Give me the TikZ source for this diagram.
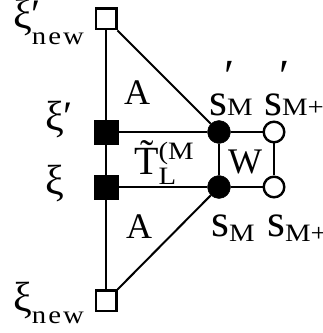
\documentclass[tikz,border=0pt]{standalone}
\usepackage{fontspec}
\setmainfont{Liberation Serif}
\newfontfamily\subfont{Liberation Serif}[FakeStretch=1.15]
\newcommand{\lo}[2]{\raisebox{-#1}{\subfont\fontsize{25}{25}\selectfont #2}}
\newcommand{\hi}[2]{\raisebox{#1}{\subfont\fontsize{25}{25}\selectfont #2}}
\newcommand{\xis}{\fontsize{42}{42}\selectfont ξ}
\newcommand{\ess}{\fontsize{46}{46}\selectfont s}

\begin{document}
\begin{tikzpicture}[x=1pt,y=1pt,
  open sq/.style={draw, line width=2.6pt, fill=white, minimum size=20.4pt, inner sep=0pt},
  full sq/.style={draw, fill=black, minimum size=24pt, inner sep=0pt},
  full dot/.style={circle, draw, fill=black, minimum size=23pt, inner sep=0pt},
  open dot/.style={circle, draw, line width=2.4pt, fill=white, minimum size=20.6pt, inner sep=0pt},
  lbl/.style={font=\fontsize{36}{36}\selectfont, inner sep=0pt, anchor=base},
  edge/.style={line width=2pt}]
\useasboundingbox (0,0) rectangle (323,333);
\node[open sq] (xinewp) at (106,314) {};
\node[full sq] (xip) at (106,201) {};
\node[full sq] (xi) at (106,146) {};
\node[open sq] (xinew) at (106,32) {};
\node[full dot] (sMp) at (219,201) {};
\node[full dot] (sM) at (219,146) {};
\node[open dot] (sMpp) at (274,201) {};
\node[open dot] (sMpl) at (274,146) {};
\draw[edge] (xinewp) -- (xip) -- (xi) -- (xinew);
\draw[edge] (xinewp.south east) -- (sMp);
\draw[edge] (xinew.north east) -- (sM);
\draw[edge] (xip) -- (sMp) -- (sMpp) -- (sMpl) -- (sM) -- (xi);
\draw[edge] (sMp) -- (sM);
\node[lbl] (aup) at (137,228) {A};
\node[lbl] (adn) at (139,95) {A};
\node[lbl] (wlab) at (245,159) {W};
\node[lbl, anchor=base west, font=\fontsize{40}{40}\selectfont] (tlab) at (134,158) {\~{T}\rlap{\hi{15pt}{(M}}\lo{10pt}{L}};
\node[lbl, anchor=base west] (lxinewp) at (13,304) {\xis\rlap{′}\lo{16pt}{n\kern2pt e\kern2pt w}};
\node[lbl, anchor=base west] (lxip) at (45,202) {\xis′};
\node[lbl, anchor=base west] (lxi) at (45,139) {\xis};
\node[lbl, anchor=base west] (lxinew) at (13,21) {\xis\lo{12pt}{n\kern2pt e\kern2pt w}};
\node[lbl, anchor=base west] (lsMp) at (209,218) {\ess\rlap{\kern-3pt\raisebox{24pt}{′}}\lo{0pt}{M}};
\node[lbl, anchor=base west] (lsMpp) at (264,218) {\ess\rlap{\kern-3pt\raisebox{24pt}{′}}\lo{0pt}{M+}};
\node[lbl, anchor=base west] (lsM) at (211,96) {\ess\lo{5pt}{M}};
\node[lbl, anchor=base west] (lsMpl) at (267,96) {\ess\lo{5pt}{M+}};
\end{tikzpicture}
\end{document}
